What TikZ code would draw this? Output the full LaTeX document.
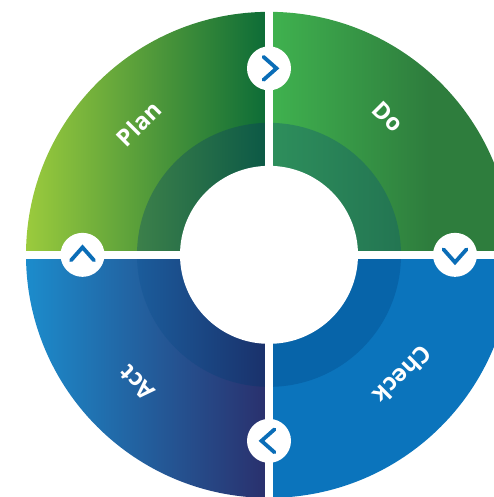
\documentclass[tikz,border=0pt]{standalone}
\usepackage{fontspec}
\setsansfont{Open Sans}
\definecolor{chevblue}{HTML}{0A6DB7}
\definecolor{checkblue}{HTML}{0B74BC}
\definecolor{checkring}{HTML}{0764A9}
\pgfdeclarehorizontalshading{doshade}{100bp}{
    rgb(0bp)=(0.25,0.70,0.31); rgb(25bp)=(0.25,0.70,0.31);
    rgb(58bp)=(0.18,0.49,0.24); rgb(100bp)=(0.18,0.49,0.24)}
\tikzset{
    hole/.style={circle, fill=white, minimum size=178pt, inner sep=0pt},
    badge/.style={circle, fill=white, minimum size=44pt, inner sep=0pt},
    chevron/.style={draw=chevblue, line width=3.8pt, line cap=round, line join=miter},
    label/.style={text=white, font=\sffamily\bfseries\fontsize{23.5}{26}\selectfont, inner sep=0pt},
    gap/.style={draw=white, line width=8.2pt}
}
\begin{document}
\begin{tikzpicture}[x=1pt, y=1pt]
    \clip (-269,-242.15) rectangle (225,254.85);

    % Draw the quadrants
    \shade[left color={rgb,255:red,155;green,203;blue,61}, right color={rgb,255:red,11;green,107;blue,55}]
        (0,0) -- (90:243) arc (90:180:243) -- cycle;
    \shade[shading=doshade] (0,0) -- (0:243) arc (0:90:243) -- cycle;
    \shade[left color={rgb,255:red,28;green,140;blue,204}, right color={rgb,255:red,42;green,47;blue,108}]
        (0,0) -- (180:243) arc (180:270:243) -- cycle;
    \fill[checkblue] (0,0) -- (270:243) arc (270:360:243) -- cycle;

    % Draw the darker rings
    \shade[left color={rgb,255:red,60;green,128;blue,74}, right color={rgb,255:red,11;green,88;blue,70}]
        (0,0) -- (90:132) arc (90:180:132) -- cycle;
    \shade[left color={rgb,255:red,46;green,143;blue,92}, right color={rgb,255:red,35;green,117;blue,82}]
        (0,0) -- (0:132) arc (0:90:132) -- cycle;
    \shade[left color={rgb,255:red,27;green,92;blue,155}, right color={rgb,255:red,26;green,48;blue,106}]
        (0,0) -- (180:132) arc (180:270:132) -- cycle;
    \fill[checkring] (0,0) -- (270:132) arc (270:360:132) -- cycle;

    % Separate the quadrants
    \coordinate (top) at (0,250);
    \coordinate (bottom) at (0,-250);
    \coordinate (left) at (-250,0);
    \coordinate (right) at (250,0);
    \draw[gap] (top) -- (bottom);
    \draw[gap] (left) -- (right);
    \node[hole] (centre) at (0,0) {};

    % Write the labels
    \node[label, rotate=45]   (plan)  at (-130,131) {Plan};
    \node[label, rotate=-45]  (do)    at (119,138)  {Do};
    \node[label, rotate=225]  (check) at (134,-120) {Check};
    \node[label, rotate=135]  (act)   at (-132,-128) {Act};

    % Place the arrows
    \node[badge] (toDo)    at (0,186.5)  {};
    \node[badge] (toCheck) at (186,0)    {};
    \node[badge] (toAct)   at (0,-186)   {};
    \node[badge] (toPlan)  at (-186.5,0) {};
    \foreach \n/\a in {toDo/0, toCheck/-90, toAct/180, toPlan/90}
        \draw[chevron, shift={(\n.center)}, rotate=\a] (-5.5,11.5) -- (7.5,0) -- (-5.5,-11.5);
\end{tikzpicture}
\end{document}
